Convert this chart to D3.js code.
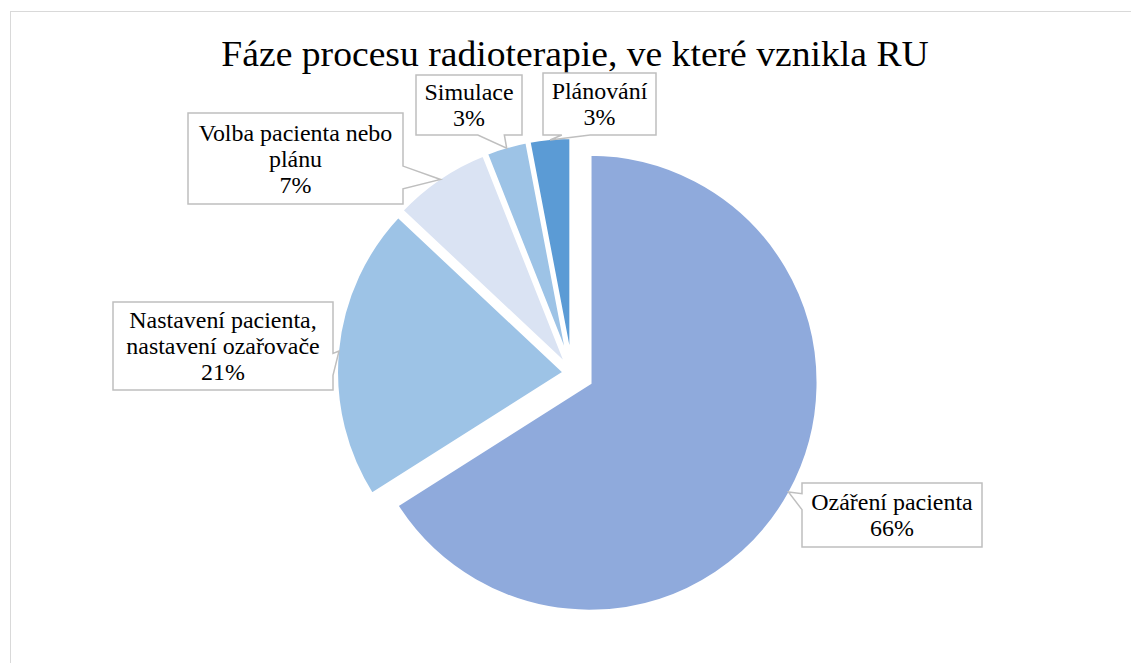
<!DOCTYPE html>
<html lang="cs">
<head>
    <meta charset="UTF-8">
    <title>Fáze procesu radioterapie</title>
    <script src="https://d3js.org/d3.v7.min.js"></script>
    <style>
        body { margin: 0; background: #fff; }
    </style>
</head>
<body>
    <div id="chart"></div>
    <script>
        // data
        var categories = ["Ozáření pacienta", "Nastavení pacienta, nastavení ozařovače", "Volba pacienta nebo plánu", "Simulace", "Plánování"];
        var values = [66, 21, 7, 3, 3];
        var labelLines = [
            ["Ozáření pacienta", "66%"],
            ["Nastavení pacienta,", "nastavení ozařovače", "21%"],
            ["Volba pacienta nebo", "plánu", "7%"],
            ["Simulace", "3%"],
            ["Plánování", "3%"]
        ];

        // layout
        var width = 1131, height = 663;
        var cx = 572, cy = 373, radius = 229;
        var explode = [20, 7, 7, 7, 7];
        var colors = ["#8faadc", "#9dc3e6", "#dae3f3", "#9dc3e6", "#5b9bd5"];
        var boxes = [
            [802, 483, 180, 64],
            [113, 302, 220, 88],
            [188, 113, 215, 91],
            [416, 75, 106, 60],
            [543, 73, 113, 62]
        ];
        var serif = "'Liberation Serif', 'Times New Roman', Times, serif";
        var fs = 22.6, stretch = 1.06, lineH = 26;

        var svg = d3.select("#chart").append("svg")
            .attr("width", width)
            .attr("height", height)
            .attr("font-family", serif);

        svg.append("rect")
            .attr("x", 10.5).attr("y", 11.5)
            .attr("width", 1200).attr("height", 700)
            .attr("fill", "none")
            .attr("stroke", "#d9d9d9");

        svg.append("text")
            .attr("transform", "translate(575,66) scale(" + stretch + ",1)")
            .attr("text-anchor", "middle")
            .attr("font-family", serif)
            .attr("font-size", 35.5)
            .attr("fill", "#000")
            .text("Fáze procesu radioterapie, ve které vznikla RU");

        var pie = d3.pie().sort(null).value(function(d) { return d; });
        var arcs = pie(values);
        var arc = d3.arc().innerRadius(0).outerRadius(radius);

        function dir(a) { return [Math.sin(a), -Math.cos(a)]; }

        arcs.forEach(function(d, i) {
            var mid = (d.startAngle + d.endAngle) / 2;
            var v = dir(mid);
            d.ox = cx + explode[i] * v[0];
            d.oy = cy + explode[i] * v[1];
            d.tipX = d.ox + (radius - 2) * v[0];
            d.tipY = d.oy + (radius - 2) * v[1];
        });

        svg.selectAll("path.slice")
            .data(arcs)
            .enter().append("path")
            .attr("class", "slice")
            .attr("transform", function(d) { return "translate(" + d.ox + "," + d.oy + ")"; })
            .attr("d", arc)
            .attr("fill", function(d, i) { return colors[i]; })
            .attr("stroke", "#fff")
            .attr("stroke-width", 4);

        // rectangular callout with a wedge pointing at the slice
        function calloutPath(b, tx, ty) {
            var x = b[0], y = b[1], w = b[2], h = b[3];
            var dxPos = tx - (x + w / 2), dyPos = ty - (y + h / 2);
            var horiz = Math.abs(dxPos * h) > Math.abs(dyPos * w);
            var x1 = x + w * (dxPos > 0 ? 7 : 2) / 12, x2 = x + w * (dxPos > 0 ? 10 : 5) / 12;
            var y1 = y + h * (dyPos > 0 ? 7 : 2) / 12, y2 = y + h * (dyPos > 0 ? 10 : 5) / 12;
            var p = d3.path();
            p.moveTo(x, y);
            if (!horiz && dyPos < 0) { p.lineTo(x1, y); p.lineTo(tx, ty); p.lineTo(x2, y); }
            p.lineTo(x + w, y);
            if (horiz && dxPos > 0) { p.lineTo(x + w, y1); p.lineTo(tx, ty); p.lineTo(x + w, y2); }
            p.lineTo(x + w, y + h);
            if (!horiz && dyPos > 0) { p.lineTo(x2, y + h); p.lineTo(tx, ty); p.lineTo(x1, y + h); }
            p.lineTo(x, y + h);
            if (horiz && dxPos < 0) { p.lineTo(x, y2); p.lineTo(tx, ty); p.lineTo(x, y1); }
            p.closePath();
            return p.toString();
        }

        var labels = svg.selectAll("g.label")
            .data(arcs)
            .enter().append("g")
            .attr("class", "label");

        labels.append("path")
            .attr("d", function(d, i) { return calloutPath(boxes[i], d.tipX, d.tipY); })
            .attr("fill", "#fff")
            .attr("stroke", "#bfbfbf")
            .attr("stroke-width", 1.5);

        labels.each(function(d, i) {
            var b = boxes[i];
            var lines = labelLines[i];
            var midX = b[0] + b[2] / 2, midY = b[1] + b[3] / 2;
            var g = d3.select(this);
            lines.forEach(function(t, k) {
                var by = midY + (k - (lines.length - 1) / 2) * lineH + 8;
                g.append("text")
                    .attr("transform", "translate(" + midX + "," + by + ") scale(" + stretch + ",1)")
                    .attr("text-anchor", "middle")
                    .attr("font-family", serif)
                    .attr("font-size", fs)
                    .attr("fill", "#000")
                    .text(t);
            });
        });
    </script>
</body>
</html>
